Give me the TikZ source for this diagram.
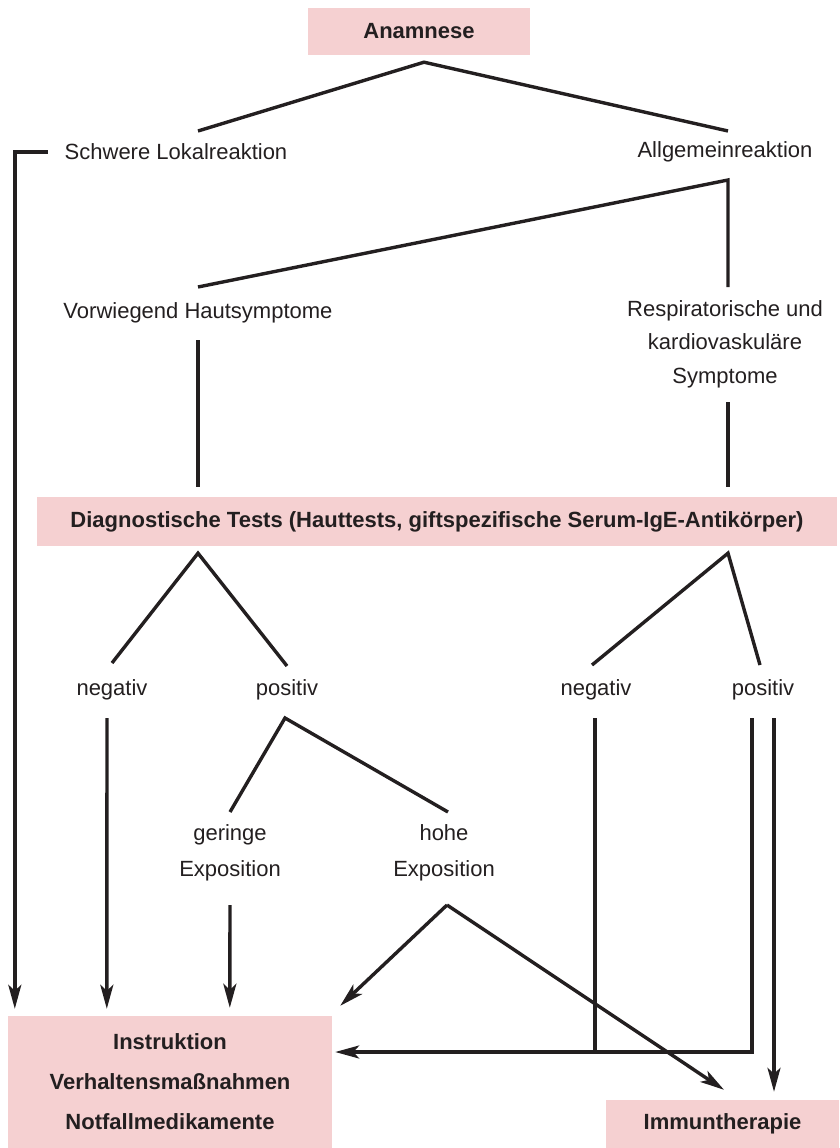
\documentclass[tikz,border=0pt]{standalone}
\usepackage{fontspec}
\setmainfont{Liberation Sans}
\usetikzlibrary{arrows.meta,positioning}
\definecolor{boxpink}{HTML}{F5D0D1}
\definecolor{ink}{HTML}{231F20}

\begin{document}
\begin{tikzpicture}[
  x=1pt, y=-1pt,
  font=\fontsize{22}{33}\selectfont,
  text=ink,
  every node/.style={align=center, inner sep=0pt},
  box/.style={fill=boxpink, font=\fontsize{22}{40}\selectfont\bfseries},
  link/.style={draw=ink, line width=3.4pt},
  arrow/.style={link, -{Stealth[length=24pt,width=13pt,inset=6pt]}}
]

\useasboundingbox (0,0) rectangle (839,1148);

% Boxes
\node[box, minimum width=222pt, minimum height=47pt] (anamnese) at (419,31.5) {Anamnese};
\node[box, minimum width=800pt, minimum height=49pt] (diag) at (437,521.5)
  {Diagnostische Tests (Hauttests, giftspezifische Serum-IgE-Antikörper)};
\node[box, minimum width=324pt, minimum height=132pt] (instr) at (170,1082)
  {Instruktion\\Verhaltensmaßnahmen\\Notfallmedikamente};
\node[box, minimum width=233pt, minimum height=48pt] (immun) at (722.5,1124) {Immuntherapie};

% Labels
\node (schwer) at (176,152) {Schwere Lokalreaktion};
\node (allg) at (725,152) {Allgemeinreaktion};
\node (vorw) at (198,313) {Vorwiegend Hautsymptome};
\node[font=\fontsize{22}{33.5}\selectfont] (resp) at (725,344) {Respiratorische und\\kardiovaskuläre\\Symptome};
\node (neg1) at (112,690) {negativ};
\node (pos1) at (287,690) {positiv};
\node (neg2) at (596,690) {negativ};
\node (pos2) at (763,690) {positiv};
\node[font=\fontsize{22}{36}\selectfont] (gering) at (230,853) {geringe\\Exposition};
\node[font=\fontsize{22}{36}\selectfont] (hohe) at (444,853) {hohe\\Exposition};

% Anamnese
\draw[link] ([xshift=22pt,yshift=21pt]schwer.center)
  -- ([xshift=5pt,yshift=-7pt]anamnese.south)
  -- ([xshift=3pt,yshift=21pt]allg.center);
\draw[arrow] ([xshift=-17pt]schwer.west) -| ([xshift=7pt,yshift=7pt]instr.north west);

% Allgemeinreaktion
\draw[link] ([yshift=26pt]vorw.center)
  -- ([xshift=3pt,yshift=-28pt]allg.center)
  -- ([xshift=3pt,yshift=57pt]resp.center);
\draw[link] ([yshift=-27pt]vorw.center) -- ([xshift=-239pt,yshift=10pt]diag.north);
\draw[link] ([xshift=3pt,yshift=-58pt]resp.center) -- ([xshift=291pt,yshift=10pt]diag.north);

% Tests
\draw[link] ([yshift=27pt]neg1.center)
  -- ([xshift=-239pt,yshift=-7pt]diag.south)
  -- ([yshift=24pt]pos1.center);
\draw[link] ([xshift=-4pt,yshift=25pt]neg2.center)
  -- ([xshift=291pt,yshift=-7pt]diag.south)
  -- ([xshift=-3pt,yshift=25pt]pos2.center);

% Hautsymptome
\draw[arrow] ([xshift=-5pt,yshift=-28pt]neg1.center) -- ([xshift=99pt,yshift=7pt]instr.north west);
\draw[link] ([yshift=41pt]gering.center)
  -- ([xshift=-2pt,yshift=-28pt]pos1.center)
  -- ([xshift=4pt,yshift=41pt]hohe.center);
\draw[arrow] ([yshift=-52pt]gering.center) -- ([xshift=222pt,yshift=8pt]instr.north west);
\draw[arrow] ([xshift=3pt,yshift=-52pt]hohe.center) -- ([xshift=8pt,yshift=10pt]instr.north east);
\draw[arrow] ([xshift=3pt,yshift=-52pt]hohe.center) -- ([xshift=1.5pt,yshift=10pt]immun.north);

% Respiratorisch
\coordinate (instrIn) at ([xshift=3pt,yshift=30pt]instr.east);
\draw[link] ([xshift=-1pt,yshift=-28pt]neg2.center) coordinate (neg2out) -- (neg2out |- instrIn);
\draw[arrow] ([xshift=-11pt,yshift=-28pt]pos2.center) |- (instrIn);
\draw[arrow] ([xshift=11pt,yshift=-28pt]pos2.center) -- ([xshift=51.5pt,yshift=8pt]immun.north);

\end{tikzpicture}
\end{document}
